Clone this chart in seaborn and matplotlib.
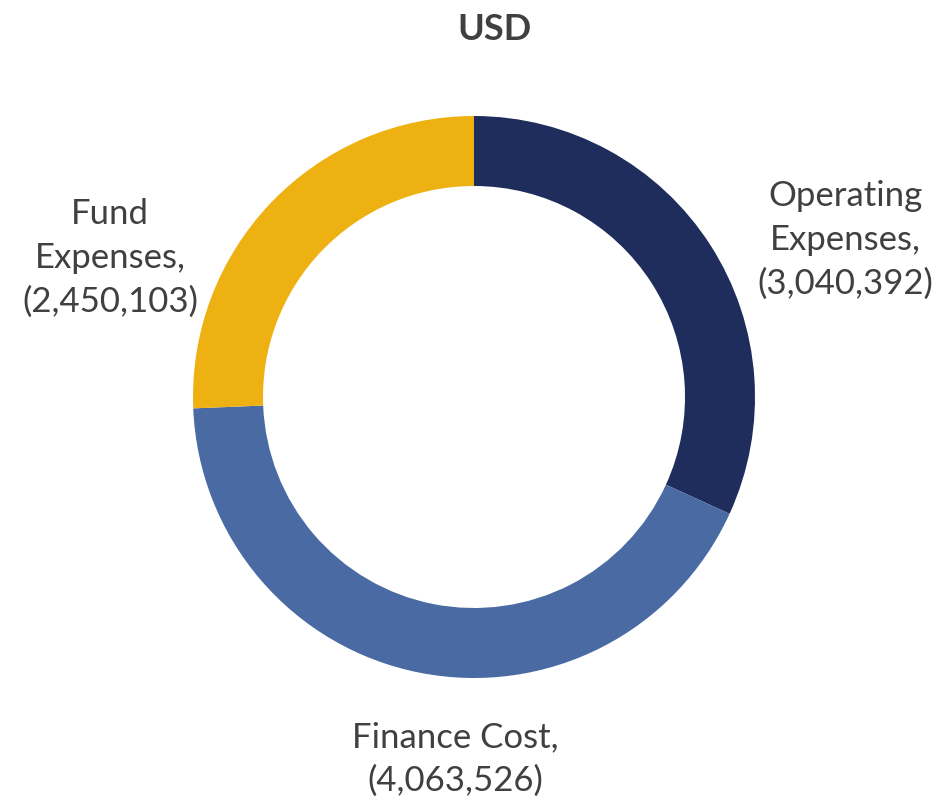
import matplotlib
matplotlib.use("Agg")
import matplotlib.pyplot as plt
import seaborn as sns

# data
categories = ["Operating Expenses", "Finance Cost", "Fund Expenses"]
values = [3040392, 4063526, 2450103]
colors = ["#1F2D5C", "#4A6AA3", "#EDB111"]

sns.set_theme(style="white")
plt.rcParams["font.family"] = ["Lato", "DejaVu Sans"]

fig = plt.figure(figsize=(9.36, 8), dpi=100)
ax = fig.add_axes([0, 0, 1, 1])

# donut, clockwise from 12 o'clock
ax.pie(values, colors=colors, startangle=90, counterclock=False,
       radius=281, center=(474, 403),
       wedgeprops=dict(width=70, linewidth=0))

# pie resets the limits, so set them afterwards
ax.set_xlim(0, 936)
ax.set_ylim(0, 800)
ax.set_aspect("equal")
ax.axis("off")

def fmt(v):
    return "({:,})".format(v)

txt = dict(color="#404040", fontsize=25, ha="center", va="center", linespacing=1.45)
ax.text(845, 560, "Operating\nExpenses,\n" + fmt(values[0]), **txt)
ax.text(455, 41, "Finance Cost,\n" + fmt(values[1]), **txt)
ax.text(110, 542, "Fund\nExpenses,\n" + fmt(values[2]), **txt)

ax.text(495, 770, "USD", color="#404040", fontsize=26, fontweight="bold",
        ha="center", va="center")

fig.savefig("out.png", dpi=100)
